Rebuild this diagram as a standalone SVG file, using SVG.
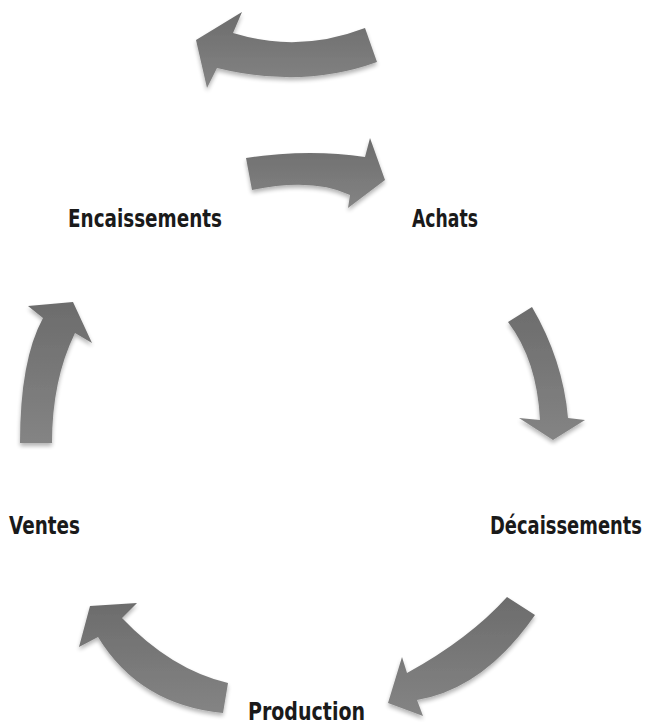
<svg xmlns="http://www.w3.org/2000/svg" width="648" height="726" viewBox="0 0 648 726">
  <defs>
    <linearGradient id="arrowFill" x1="0" y1="0" x2="0" y2="1">
      <stop offset="0" stop-color="#6c6c6c"/>
      <stop offset="1" stop-color="#848484"/>
    </linearGradient>
    <filter id="softShadow" x="-20%" y="-20%" width="140%" height="150%">
      <feGaussianBlur in="SourceAlpha" stdDeviation="2.2"/>
      <feOffset dx="0" dy="3" result="blur"/>
      <feComponentTransfer><feFuncA type="linear" slope="0.3"/></feComponentTransfer>
      <feMerge><feMergeNode/><feMergeNode in="SourceGraphic"/></feMerge>
    </filter>
    <style>
      .arrow { fill: url(#arrowFill); filter: url(#softShadow); }
      .label { font-family: "Liberation Sans Narrow", "DejaVu Sans Condensed", "Arial Narrow", sans-serif; font-weight: bold; font-size: 25px; fill: #1a1a1a; }
    </style>
  </defs>
  <rect width="648" height="726" fill="#ffffff"/>

  <!-- curved cycle arrows -->
  <g id="connectors">
    <path class="arrow" d="M196,40 L242,12 L233,33 Q299,53.5 365,28 L377,62 Q303,89 217,68 L207,88 Z"/>
    <path class="arrow" d="M246,158 Q308.5,148.5 365,157 L370,138 L385,180 L348,208 L350,195 Q313,177.5 252,190 Z"/>
    <path class="arrow" d="M508,322 L532,307 Q563,360 568,418 L585,420 L553,440 L519,418 L540,420 Q537,360 508,322 Z"/>
    <path class="arrow" d="M507,597 Q469,639 407,673 L402,657 L388,703 L423,716 L417,700 Q484,688.5 535,615 Z"/>
    <path class="arrow" d="M90,606 L137,603 L122,618 Q171,669.5 228,683 L223,713 Q139.5,705 98,637 L79,647 Z"/>
    <path class="arrow" d="M20,443 Q20,360 43,318 L28,306 L73,302 L92,343 L75,333 Q52,380 52,443 Z"/>
  </g>

  <g id="encaissements"><text class="label" x="68" y="227" textLength="154" lengthAdjust="spacingAndGlyphs">Encaissements</text></g>
  <g id="achats"><text class="label" x="412" y="227" textLength="66" lengthAdjust="spacingAndGlyphs">Achats</text></g>
  <g id="decaissements"><text class="label" x="490" y="534" textLength="152" lengthAdjust="spacingAndGlyphs">Décaissements</text></g>
  <g id="production"><text class="label" x="248" y="720" textLength="117" lengthAdjust="spacingAndGlyphs">Production</text></g>
  <g id="ventes"><text class="label" x="9" y="534" textLength="71" lengthAdjust="spacingAndGlyphs">Ventes</text></g>
</svg>
